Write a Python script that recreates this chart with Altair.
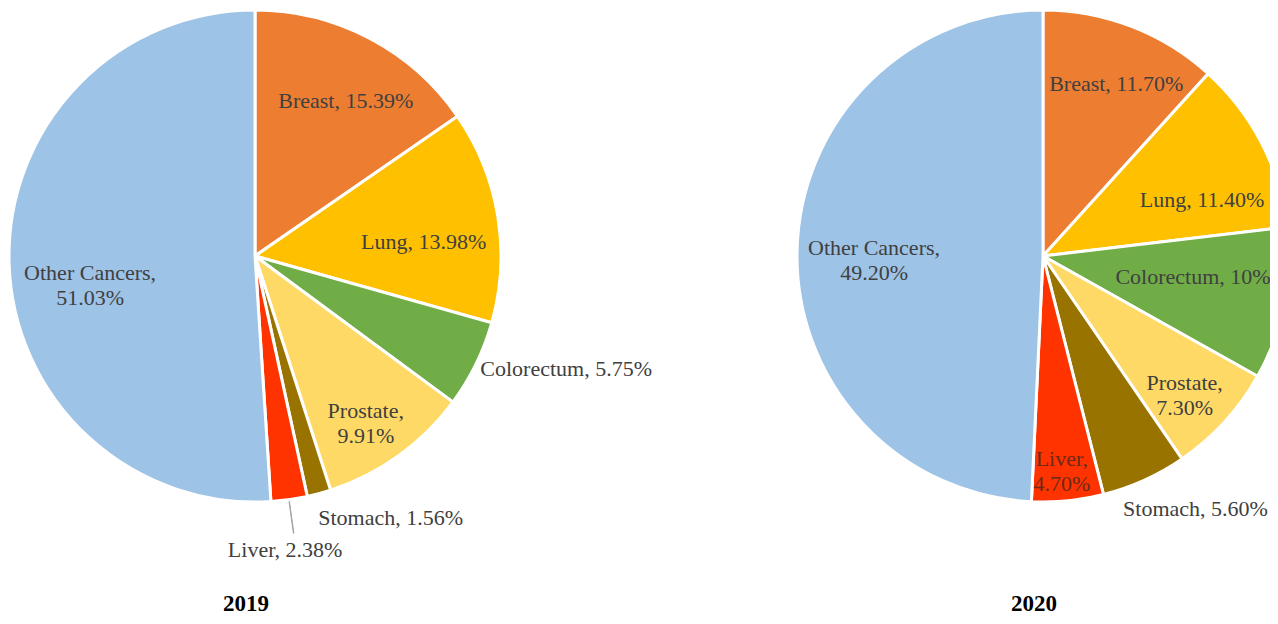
import altair as alt
import pandas as pd

# ---- data ----
categories = ["Breast", "Lung", "Colorectum", "Prostate", "Stomach", "Liver", "Other Cancers"]
years = ["2019", "2020"]
values_2019 = [15.39, 13.98, 5.75, 9.91, 1.56, 2.38, 51.03]
values_2020 = [11.70, 11.40, 10.00, 7.30, 5.60, 4.70, 49.20]
labels_2019 = ["Breast, 15.39%", "Lung, 13.98%", "Colorectum, 5.75%", "Prostate,\n9.91%",
               "Stomach, 1.56%", "Liver, 2.38%", "Other Cancers,\n51.03%"]
labels_2020 = ["Breast, 11.70%", "Lung, 11.40%", "Colorectum, 10%", "Prostate,\n7.30%",
               "Stomach, 5.60%", "Liver,\n4.70%", "Other Cancers,\n49.20%"]

# ---- style ----
colors = ["#ED7D31", "#FFC000", "#70AD47", "#FFD966", "#997300", "#FF3300", "#9DC3E6"]
FONT = "Liberation Serif"
TEXT = "#404040"
LINE_H = 25
W, H = 1262, 608
centers = {"2019": (247, 248), "2020": (1035, 248)}
R = 246
# label placement: radius, align, dx, dy, colour  (per category order)
label_style = {
    "2019": [(178, "center", 8, 3, TEXT), (170, "center", 1, 14, TEXT), (252, "left", -1, 2, TEXT),
             (200, "center", -6, 5, TEXT), (270, "left", -7, 1, TEXT), (296, "center", -11, 1, TEXT),
             (165, "center", 0, 24, TEXT)],
    "2020": [(187, "center", 6, 2, TEXT), (170, "center", 8, 22, TEXT), (156, "center", -3, -9, TEXT),
             (200, "center", -6, 5, TEXT), (290, "center", 33, -11, TEXT), (217, "center", -3, 0, "#6B2A1A"),
             (169, "center", 0, 8, TEXT)],
}
leader = {"2019": "Liver"}

rows = []
for yr, vals, labs in [("2019", values_2019, labels_2019), ("2020", values_2020, labels_2020)]:
    for i, (c, v, l) in enumerate(zip(categories, vals, labs)):
        rows.append({"year": yr, "idx": i, "category": c, "value": v, "label": l})
df = pd.DataFrame(rows)
label_of = {(r["year"], r["category"]): r["label"] for r in rows}

theta_scale = alt.Scale(domain=[0, 1], range=[0, 6.283185307179586])


def base(yr):
    return (
        alt.Chart(df)
        .transform_filter(alt.datum.year == yr)
        .transform_joinaggregate(total="sum(value)")
        .transform_window(cum="sum(value)", sort=[alt.SortField("idx")], frame=[None, 0])
        .transform_calculate(
            t0="(datum.cum - datum.value) / datum.total",
            t1="datum.cum / datum.total",
            mid="(datum.cum - datum.value / 2) / datum.total",
            mid2="(datum.cum - datum.value / 2) / datum.total + 0.0003",
        )
    )


layers = []
for yr in years:
    cx, cy = centers[yr]
    pie = base(yr).mark_arc(radius=R, stroke="white", strokeWidth=3).encode(
        theta=alt.Theta("t0:Q", scale=theta_scale),
        theta2="t1:Q",
        color=alt.Color("category:N", scale=alt.Scale(domain=categories, range=colors), legend=None),
        order=alt.Order("idx:Q"),
        x=alt.value(cx),
        y=alt.value(cy),
    )
    layers.append(pie)
    if yr in leader:
        ln = (
            base(yr)
            .transform_filter(alt.datum.category == leader[yr])
            .mark_arc(radius=R + 2, radius2=R + 34, stroke="#A6A6A6", strokeWidth=1, fill="#A6A6A6")
            .encode(
                theta=alt.Theta("mid:Q", scale=theta_scale),
                theta2="mid2:Q",
                x=alt.value(cx),
                y=alt.value(cy),
            )
        )
        layers.append(ln)
    for c, (r, al, ddx, ddy, col) in zip(categories, label_style[yr]):
        n_lines = label_of[(yr, c)].count("\n") + 1
        ddy = ddy - (n_lines - 1) * LINE_H / 2
        t = (
            base(yr)
            .transform_filter(alt.datum.category == c)
            .mark_text(font=FONT, fontSize=22, color=col, align=al, baseline="middle",
                       lineBreak="\n", lineHeight=LINE_H, radius=r, dx=ddx, dy=ddy)
            .encode(
                theta=alt.Theta("mid:Q", scale=theta_scale),
                text="label:N",
                x=alt.value(cx),
                y=alt.value(cy),
            )
        )
        layers.append(t)
    title = (
        alt.Chart(pd.DataFrame({"year": [yr]}))
        .mark_text(font=FONT, fontSize=23, fontWeight="bold", color="#000000",
                   align="center", baseline="alphabetic")
        .encode(text="year:N", x=alt.value(cx - 9), y=alt.value(H - 5))
    )
    layers.append(title)

chart = (
    alt.layer(*layers)
    .properties(width=W, height=H, padding=0, autosize=alt.AutoSizeParams(type="none"))
    .configure_view(stroke=None)
)

chart.save("out.html", embed_options={"renderer": "svg", "actions": False})
